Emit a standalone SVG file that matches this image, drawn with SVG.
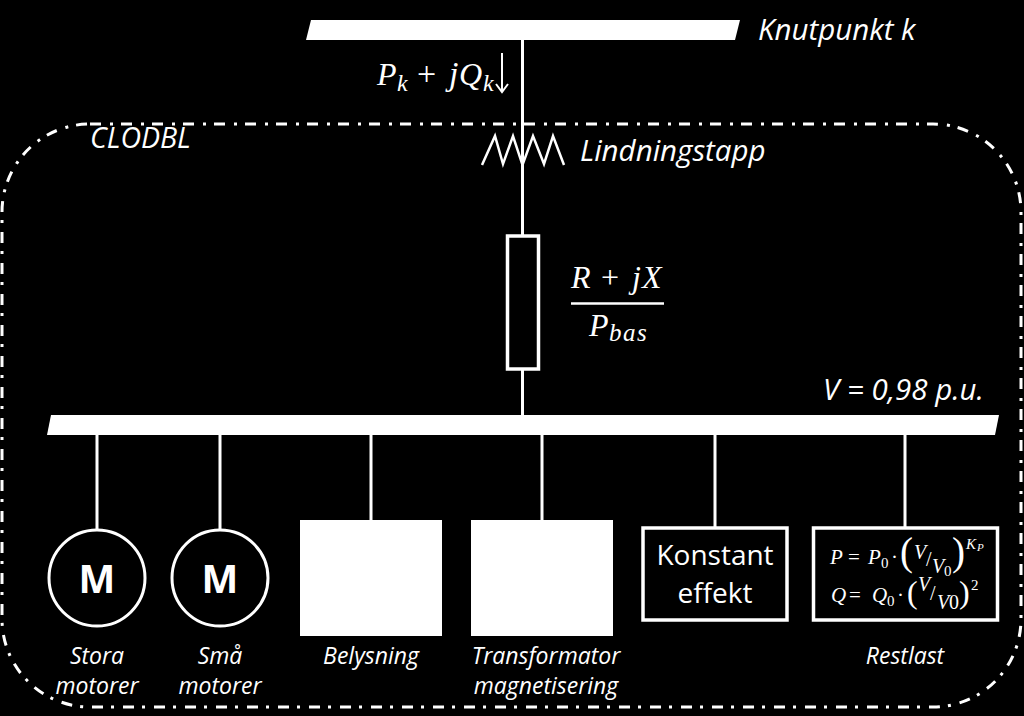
<svg xmlns="http://www.w3.org/2000/svg" width="1024" height="716" viewBox="0 0 1024 716">
<style>
.ln{fill:none;stroke:#fff;stroke-width:3}
.bx{fill:none;stroke:#fff;stroke-width:3.5}
.sol{fill:#fff}
text{fill:#fff}
.lb{font-family:"Open Sans","Noto Sans",sans-serif;font-style:italic;font-size:23px;text-anchor:middle}
.lg{font-family:"Open Sans","Noto Sans",sans-serif;font-style:italic;font-size:29.500px}
.kt{font-family:"Open Sans","Noto Sans",sans-serif;font-size:28px;text-anchor:middle}
.m{font-family:"Open Sans","Noto Sans",sans-serif;font-weight:700;font-size:39px;text-anchor:middle}
.mt{font-family:"Liberation Serif",serif;font-style:italic}
.up{font-style:normal}
</style>
<rect width="1024" height="716" fill="#000"/>
<g id="connectors">
<path class="ln" d="M522.500 40V236M522.500 369V415M97 435V530M220 435V530M371 435V520M542 435V520M715 435V527M905 435V527"/>
<path d="M502 53V91M496 84L502 92L508 84" fill="none" stroke="#fff" stroke-width="2"/>
</g>
<g id="boundary">
<rect x="2" y="124" width="1019" height="583" rx="88" ry="88" fill="none" stroke="#fff" stroke-width="3" stroke-dasharray="11 9 3 8"/>
<text class="lg" x="90" y="148" style="font-size:28.500px">CLODBL</text>
</g>
<g id="bus-k">
<polygon class="sol" points="311,20 740,20 735,40 306,40"/>
<text class="lg" x="758" y="40">Knutpunkt k</text>
</g>
<g id="flow-label">
<text class="mt" font-size="32" x="377" y="85">P</text>
<text class="mt" font-size="24" x="397" y="91">k</text>
<text class="mt up" font-size="34" x="417" y="85">+</text>
<text class="mt" font-size="34" x="449" y="85">j</text>
<text class="mt" font-size="32" x="459" y="85">Q</text>
<text class="mt" font-size="24" x="483" y="91">k</text>
</g>
<g id="tap">
<path d="M482 165L495 136L503 164L513 136L522.500 165L533 136L544 164L553 136L564 165" fill="none" stroke="#fff" stroke-width="2.500"/>
<text class="lg" x="580" y="161">Lindningstapp</text>
</g>
<g id="impedance">
<rect class="bx" x="507.500" y="236" width="31" height="133"/>
<text class="mt" font-size="32" x="571" y="288">R</text>
<text class="mt up" font-size="32" x="601" y="288">+</text>
<text class="mt" font-size="32" x="632" y="288">j</text>
<text class="mt" font-size="32" x="642" y="288">X</text>
<path d="M571 303.500H664" stroke="#fff" stroke-width="2.500"/>
<text class="mt" font-size="32" x="589" y="336">P</text>
<text class="mt" font-size="25" x="609" y="341" letter-spacing="1.500">bas</text>
</g>
<g id="bus-main">
<polygon class="sol" points="51,415 999,415 995,435 47,435"/>
<text class="lg" x="823" y="400">V = 0,98 p.u.</text>
</g>
<g id="motor-stora">
<circle class="ln" cx="97" cy="578" r="48" stroke-width="3.500"/>
<text class="m" x="97" y="593">M</text>
<text class="lb" x="97" y="664">Stora</text>
<text class="lb" x="97" y="694">motorer</text>
</g>
<g id="motor-sma">
<circle class="ln" cx="220" cy="578" r="48" stroke-width="3.500"/>
<text class="m" x="220" y="593">M</text>
<text class="lb" x="220" y="664">Små</text>
<text class="lb" x="220" y="694">motorer</text>
</g>
<g id="belysning">
<rect class="sol" x="300" y="520" width="142" height="116"/>
<text class="lb" x="371" y="664">Belysning</text>
</g>
<g id="transformator">
<rect class="sol" x="471" y="520" width="142" height="116"/>
<text class="lb" x="546" y="664">Transformator</text>
<text class="lb" x="546" y="694">magnetisering</text>
</g>
<g id="konstant">
<rect class="bx" x="643" y="528" width="144" height="92"/>
<text class="kt" x="715" y="565">Konstant</text>
<text class="kt" x="715" y="603">effekt</text>
</g>
<g id="restlast">
<rect class="bx" x="813.500" y="528" width="184" height="92"/>
<text class="mt" font-size="21" x="830" y="564">P</text>
<text class="mt up" font-size="21" x="848" y="564">=</text>
<text class="mt" font-size="21" x="868" y="564">P</text>
<text class="mt up" font-size="15" x="881" y="568">0</text>
<text class="mt up" font-size="21" x="891" y="564">·</text>
<text class="mt up" font-size="39" x="900" y="565">(</text>
<text class="mt" font-size="20" x="914" y="559">V</text>
<text class="mt up" font-size="20" x="926" y="566">/</text>
<text class="mt" font-size="20" x="932" y="573">V</text>
<text class="mt up" font-size="15" x="944" y="576">0</text>
<text class="mt up" font-size="39" x="952" y="565">)</text>
<text class="mt" font-size="15" x="966" y="549">K</text>
<text class="mt" font-size="11" x="977" y="551">P</text>
<text class="mt" font-size="21" x="831" y="602">Q</text>
<text class="mt up" font-size="21" x="849" y="602">=</text>
<text class="mt" font-size="21" x="872" y="602">Q</text>
<text class="mt up" font-size="15" x="887" y="606">0</text>
<text class="mt up" font-size="21" x="897" y="602">·</text>
<text class="mt up" font-size="32" x="907" y="603">(</text>
<text class="mt" font-size="20" x="918" y="591">V</text>
<text class="mt up" font-size="20" x="930" y="600">/</text>
<text class="mt" font-size="20" x="937" y="609">V</text>
<text class="mt up" font-size="20" x="949" y="609">0</text>
<text class="mt up" font-size="32" x="959" y="603">)</text>
<text class="mt up" font-size="15" x="971" y="590">2</text>
<text class="lb" x="905" y="664">Restlast</text>
</g>
</svg>
